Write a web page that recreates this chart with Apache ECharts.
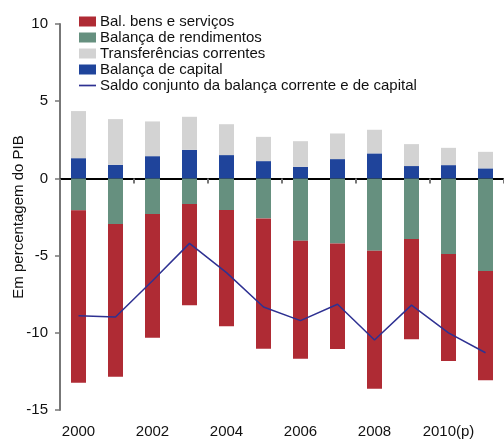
<!DOCTYPE html>
<html>
<head>
<meta charset="utf-8">
<script src="https://cdn.jsdelivr.net/npm/echarts@6/dist/echarts.min.js"></script>
<style>
  html, body { margin: 0; padding: 0; background: #fff; }
  #chart { width: 504px; height: 439px; }
</style>
</head>
<body>
<div id="chart"></div>
<script>
// Anos (2010 e 2011 são previsões)
const years = ['2000', '2001', '2002', '2003', '2004', '2005', '2006', '2007', '2008', '2009', '2010(p)', '2011(p)'];

// Componentes em percentagem do PIB
const bensServicos   = [-11.16, -9.88, -8.01, -6.56, -7.53, -8.44, -7.64, -6.84, -8.94, -6.49, -6.93, -7.07];
const rendimentos    = [-2.07, -2.96, -2.31, -1.66, -2.05, -2.59, -4.04, -4.21, -4.68, -3.93, -4.90, -6.00];
const transferencias = [3.05, 2.96, 2.25, 2.14, 2.00, 1.57, 1.66, 1.66, 1.53, 1.42, 1.12, 1.07];
const capital        = [1.31, 0.88, 1.44, 1.85, 1.51, 1.12, 0.75, 1.25, 1.62, 0.80, 0.86, 0.65];
const saldoConjunto  = [-8.89, -8.98, -6.63, -4.21, -6.10, -8.33, -9.21, -8.15, -10.47, -8.21, -10.00, -11.29];

const yTicks = { min: -15, max: 10, interval: 5 };

const FONT = '"Liberation Sans", Arial, sans-serif';
const names = {
  bens: 'Bal. bens e serviços',
  rend: 'Balança de rendimentos',
  transf: 'Transferências correntes',
  cap: 'Balança de capital',
  saldo: 'Saldo conjunto da balança corrente e de capital'
};

const chart = echarts.init(document.getElementById('chart'), null, { renderer: 'canvas' });

chart.setOption({
  animation: false,
  backgroundColor: '#ffffff',
  textStyle: { fontFamily: FONT },
  grid: { left: 60, right: 0, top: 24, bottom: 29, containLabel: false, outerBoundsMode: 'none' },
  legend: {
    orient: 'vertical',
    left: 79,
    top: 14,
    padding: 0,
    itemWidth: 17,
    itemHeight: 10,
    itemGap: 1,
    icon: 'rect',
    data: [
      { name: names.bens, icon: 'rect' },
      { name: names.rend, icon: 'rect' },
      { name: names.transf, icon: 'rect' },
      { name: names.cap, icon: 'rect' },
      { name: names.saldo, icon: 'path://M0,0H20V2H0Z' }
    ],
    textStyle: { fontFamily: FONT, fontSize: 15, color: '#111', padding: [0, 0, 0, -1] }
  },
  xAxis: [
    {
      type: 'category',
      data: years,
      boundaryGap: true,
      axisLine: { onZero: true, lineStyle: { color: '#000', width: 2 } },
      axisTick: { show: true, length: 5, lineStyle: { color: '#777', width: 2 } },
      axisLabel: { show: false },
      splitLine: { show: false }
    },
    {
      type: 'category',
      data: years,
      position: 'bottom',
      axisLine: { show: false, onZero: false },
      axisTick: { show: false },
      axisLabel: { interval: 1, fontSize: 15, color: '#111', margin: 14, fontFamily: FONT },
      splitLine: { show: false }
    }
  ],
  yAxis: {
    type: 'value',
    min: yTicks.min,
    max: yTicks.max,
    interval: yTicks.interval,
    name: 'Em percentagem do PIB',
    nameLocation: 'middle',
    nameGap: 34,
    nameMoveOverlap: false,
    nameTextStyle: { fontSize: 15, color: '#111', fontFamily: FONT },
    axisLine: { show: true, onZero: false, lineStyle: { color: '#777', width: 2 } },
    axisTick: { show: true, length: 5, lineStyle: { color: '#777', width: 1.5 } },
    axisLabel: { fontSize: 15, color: '#111', margin: 12, fontFamily: FONT },
    splitLine: { show: false }
  },
  series: [
    {
      name: names.rend, type: 'bar', stack: 'bp', barWidth: 15,
      itemStyle: { color: '#66907f' }, data: rendimentos
    },
    {
      name: names.bens, type: 'bar', stack: 'bp', barWidth: 15,
      itemStyle: { color: '#af2b34' }, data: bensServicos
    },
    {
      name: names.cap, type: 'bar', stack: 'bp', barWidth: 15,
      itemStyle: { color: '#1f449b' }, data: capital
    },
    {
      name: names.transf, type: 'bar', stack: 'bp', barWidth: 15,
      itemStyle: { color: '#d3d3d3' }, data: transferencias
    },
    {
      name: names.saldo, type: 'line', symbol: 'none', z: 5,
      lineStyle: { color: '#2e3192', width: 1.5 },
      itemStyle: { color: '#2e3192' },
      data: saldoConjunto
    }
  ]
});
</script>
</body>
</html>
